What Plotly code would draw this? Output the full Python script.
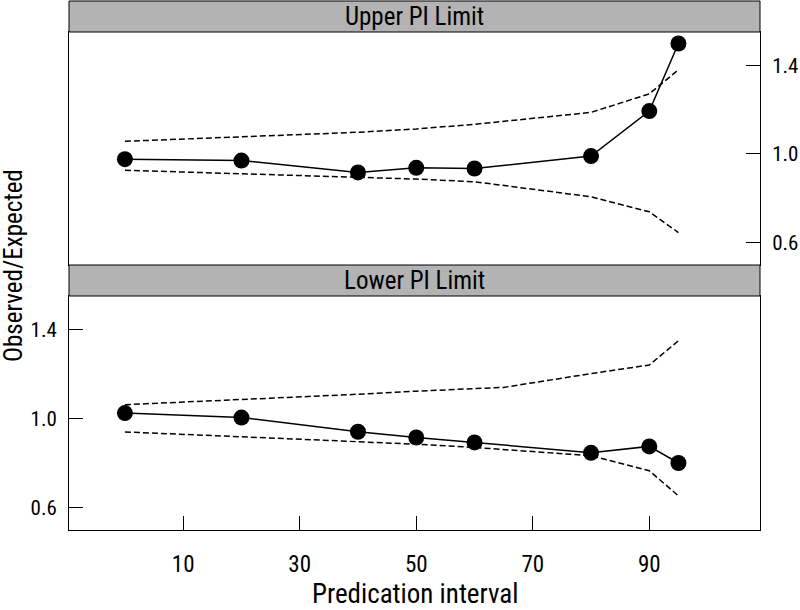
import plotly.graph_objects as go

# ---- data ----
x_pts = [0, 20, 40, 50, 60, 80, 90, 95]

# Upper PI Limit panel
upper_obs = [0.976, 0.970, 0.916, 0.937, 0.934, 0.990, 1.194, 1.50]
upper_hi_x = [0, 20, 40, 50, 60, 80, 90, 95]
upper_hi = [1.057, 1.078, 1.098, 1.113, 1.134, 1.188, 1.272, 1.381]
upper_lo_x = [0, 20, 40, 50, 60, 80, 90, 95]
upper_lo = [0.926, 0.910, 0.893, 0.886, 0.874, 0.806, 0.738, 0.644]

# Lower PI Limit panel
lower_obs = [1.024, 1.004, 0.940, 0.914, 0.892, 0.845, 0.874, 0.799]
lower_hi_x = [0, 20, 40, 50, 60, 65, 80, 90, 95]
lower_hi = [1.062, 1.085, 1.109, 1.123, 1.134, 1.140, 1.202, 1.241, 1.350]
lower_lo_x = [0, 20, 40, 50, 60, 80, 90, 95]
lower_lo = [0.939, 0.917, 0.896, 0.884, 0.869, 0.832, 0.764, 0.651]

x_ticks = [10, 30, 50, 70, 90]
y_ticks = [0.6, 1.0, 1.4]
panel_titles = ["Upper PI Limit", "Lower PI Limit"]
x_title = "Predication interval"
y_title = "Observed/Expected"

FONT = "Liberation Sans Narrow, Roboto Condensed, DejaVu Sans Condensed, Arial Narrow, sans-serif"

fig = go.Figure()

def add_panel(obs, hx, hi, lx, lo, xa, ya):
    dash = dict(color="black", width=1.5, dash="6px,3px")
    fig.add_trace(go.Scatter(x=hx, y=hi, mode="lines", line=dash, xaxis=xa, yaxis=ya, showlegend=False))
    fig.add_trace(go.Scatter(x=lx, y=lo, mode="lines", line=dash, xaxis=xa, yaxis=ya, showlegend=False))
    fig.add_trace(go.Scatter(x=x_pts, y=obs, mode="lines+markers",
                             line=dict(color="black", width=1.5),
                             marker=dict(color="black", size=16),
                             xaxis=xa, yaxis=ya, showlegend=False))

add_panel(upper_obs, upper_hi_x, upper_hi, upper_lo_x, upper_lo, "x", "y")
add_panel(lower_obs, lower_hi_x, lower_hi, lower_lo_x, lower_lo, "x2", "y2")

# geometry (pixels): plot area top=1, bottom=530
H_TOP, H_BOT = 1, 530
ph = H_BOT - H_TOP
def py(p):
    return (H_BOT - p) / ph

strip_h = 31
top_panel = [py(265), py(32)]
bot_panel = [0, py(296)]

xr = [-9.6, 109]
yr = [0.497, 1.552]
ytickfont = dict(family=FONT, size=21, color="black")
xtickfont = dict(family=FONT, size=23, color="black")

common_x = dict(range=xr, showgrid=False, zeroline=False, showline=True, linecolor="black",
                linewidth=1, mirror=True, tickvals=x_ticks, automargin=False)
common_y = dict(range=yr, showgrid=False, zeroline=False, showline=True, linecolor="black",
                linewidth=1, mirror=True, tickvals=y_ticks, tickformat=".1f",
                ticks="inside", ticklen=14, tickcolor="black", tickfont=ytickfont,
                ticklabelstandoff=7, automargin=False)

fig.update_layout(
    width=800, height=610,
    margin=dict(l=69, r=40, t=H_TOP, b=610 - H_BOT, autoexpand=False),
    paper_bgcolor="white", plot_bgcolor="white",
    font=dict(family=FONT, color="black"),
    xaxis=dict(**common_x, domain=[0, 1], anchor="y", showticklabels=False, ticks=""),
    yaxis=dict(**common_y, domain=top_panel, anchor="x", side="right"),
    xaxis2=dict(**common_x, domain=[0, 1], anchor="y2", ticks="inside", ticklen=14,
                tickcolor="black", tickfont=xtickfont, ticklabelstandoff=13),
    yaxis2=dict(**common_y, domain=bot_panel, anchor="x2", side="left"),
)

shapes = []
annotations = []
for title, (y0p, y1p) in zip(panel_titles, [(32 - strip_h, 32), (296 - strip_h, 296)]):
    shapes.append(dict(type="rect", xref="paper", yref="paper", x0=0, x1=1,
                       y0=py(y1p), y1=py(y0p), fillcolor="#b3b3b3",
                       line=dict(color="black", width=1), layer="above"))
    annotations.append(dict(text=title, xref="paper", yref="paper", x=0.5,
                            y=py((y0p + y1p) / 2), xanchor="center", yanchor="middle",
                            showarrow=False, font=dict(family=FONT, size=25, color="black")))

annotations.append(dict(text=x_title, xref="paper", yref="paper", x=0.5, y=0,
                        xanchor="center", yanchor="middle", yshift=-64, showarrow=False,
                        font=dict(family=FONT, size=27, color="black")))
annotations.append(dict(text=y_title, xref="paper", yref="paper", x=0, y=py(266),
                        xanchor="center", yanchor="middle", xshift=-56, textangle=-90,
                        showarrow=False, font=dict(family=FONT, size=25, color="black")))

fig.update_layout(shapes=shapes, annotations=annotations)
fig.write_html("out.html", config={"displayModeBar": False},
               post_script="document.body.style.margin='0';document.body.style.overflow='hidden';")
